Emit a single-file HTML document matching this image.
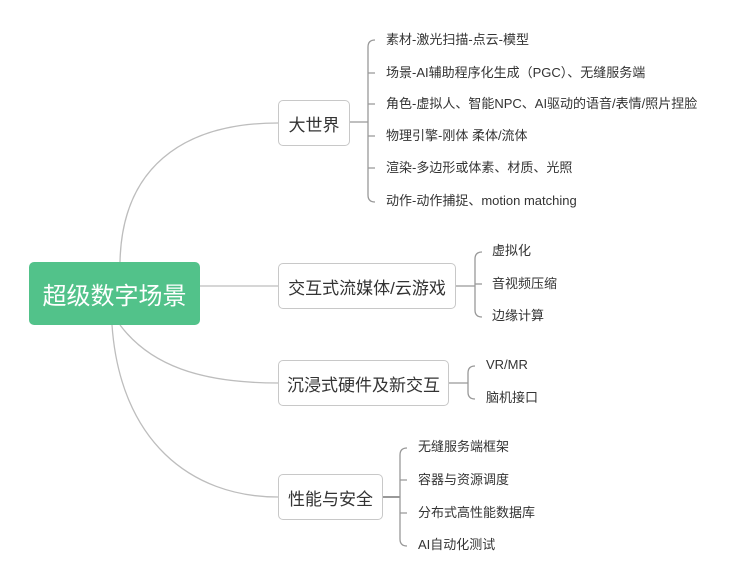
<!DOCTYPE html>
<html><head><meta charset="utf-8"><style>
body{margin:0;width:735px;height:588px;background:#fff;overflow:hidden;position:relative;font-family:"Liberation Sans","Noto Sans CJK SC",sans-serif;}
.b{position:absolute;border:1px solid #c8c8c8;border-radius:5px;background:#fff;box-sizing:border-box;display:flex;align-items:center;justify-content:center;font-size:17px;color:#333;}
.t{position:absolute;font-size:13px;color:#333;line-height:16px;white-space:nowrap;}
svg{position:absolute;left:0;top:0}
</style></head><body>
<svg width="735" height="588" fill="none" stroke="#bdbdbd" stroke-width="1.3">
<path d="M120,262 C122,170 180,123 278,123"/>
<path d="M200,286 L278,286"/>
<path d="M120,325 C150,365 200,383 278,383"/>
<path d="M112,325 C120,440 190,497 278,497"/>
<g stroke="#999">
<path d="M350,122 H368"/>
<path d="M375,40 Q368,40 368,47 V195 Q368,202 375,202"/>
<path d="M368,73 H375 M368,104 H375 M368,136 H375 M368,168 H375"/>
<path d="M456,286 H475"/>
<path d="M482,252 Q475,252 475,259 V310 Q475,317 482,317"/>
<path d="M475,284 H482"/>
<path d="M449,383 H468"/>
<path d="M475,366 Q468,366 468,373 V392 Q468,399 475,399"/>
<path d="M383,497 H400" stroke-width="2"/>
<path d="M407,448 Q400,448 400,455 V539 Q400,546 407,546"/>
<path d="M400,480 H407 M400,513 H407"/>
</g>
</svg>
<div class="b" style="left:29px;top:262px;width:171px;height:63px;background:#52c28a;border:none;color:#fff;font-size:24px;">超级数字场景</div>
<div class="b" style="left:278px;top:100px;width:72px;height:46px;">大世界</div>
<div class="b" style="left:278px;top:263px;width:178px;height:46px;">交互式流媒体/云游戏</div>
<div class="b" style="left:278px;top:360px;width:171px;height:46px;">沉浸式硬件及新交互</div>
<div class="b" style="left:278px;top:474px;width:105px;height:46px;">性能与安全</div>
<div class="t" style="left:386px;top:32px">素材-激光扫描-点云-模型</div>
<div class="t" style="left:386px;top:65px">场景-AI辅助程序化生成（PGC）、无缝服务端</div>
<div class="t" style="left:386px;top:96px">角色-虚拟人、智能NPC、AI驱动的语音/表情/照片捏脸</div>
<div class="t" style="left:386px;top:128px">物理引擎-刚体 柔体/流体</div>
<div class="t" style="left:386px;top:160px">渲染-多边形或体素、材质、光照</div>
<div class="t" style="left:386px;top:193px">动作-动作捕捉、motion matching</div>
<div class="t" style="left:492px;top:243px">虚拟化</div>
<div class="t" style="left:492px;top:276px">音视频压缩</div>
<div class="t" style="left:492px;top:308px">边缘计算</div>
<div class="t" style="left:486px;top:357px">VR/MR</div>
<div class="t" style="left:486px;top:390px">脑机接口</div>
<div class="t" style="left:418px;top:439px">无缝服务端框架</div>
<div class="t" style="left:418px;top:472px">容器与资源调度</div>
<div class="t" style="left:418px;top:505px">分布式高性能数据库</div>
<div class="t" style="left:418px;top:537px">AI自动化测试</div>
</body></html>
